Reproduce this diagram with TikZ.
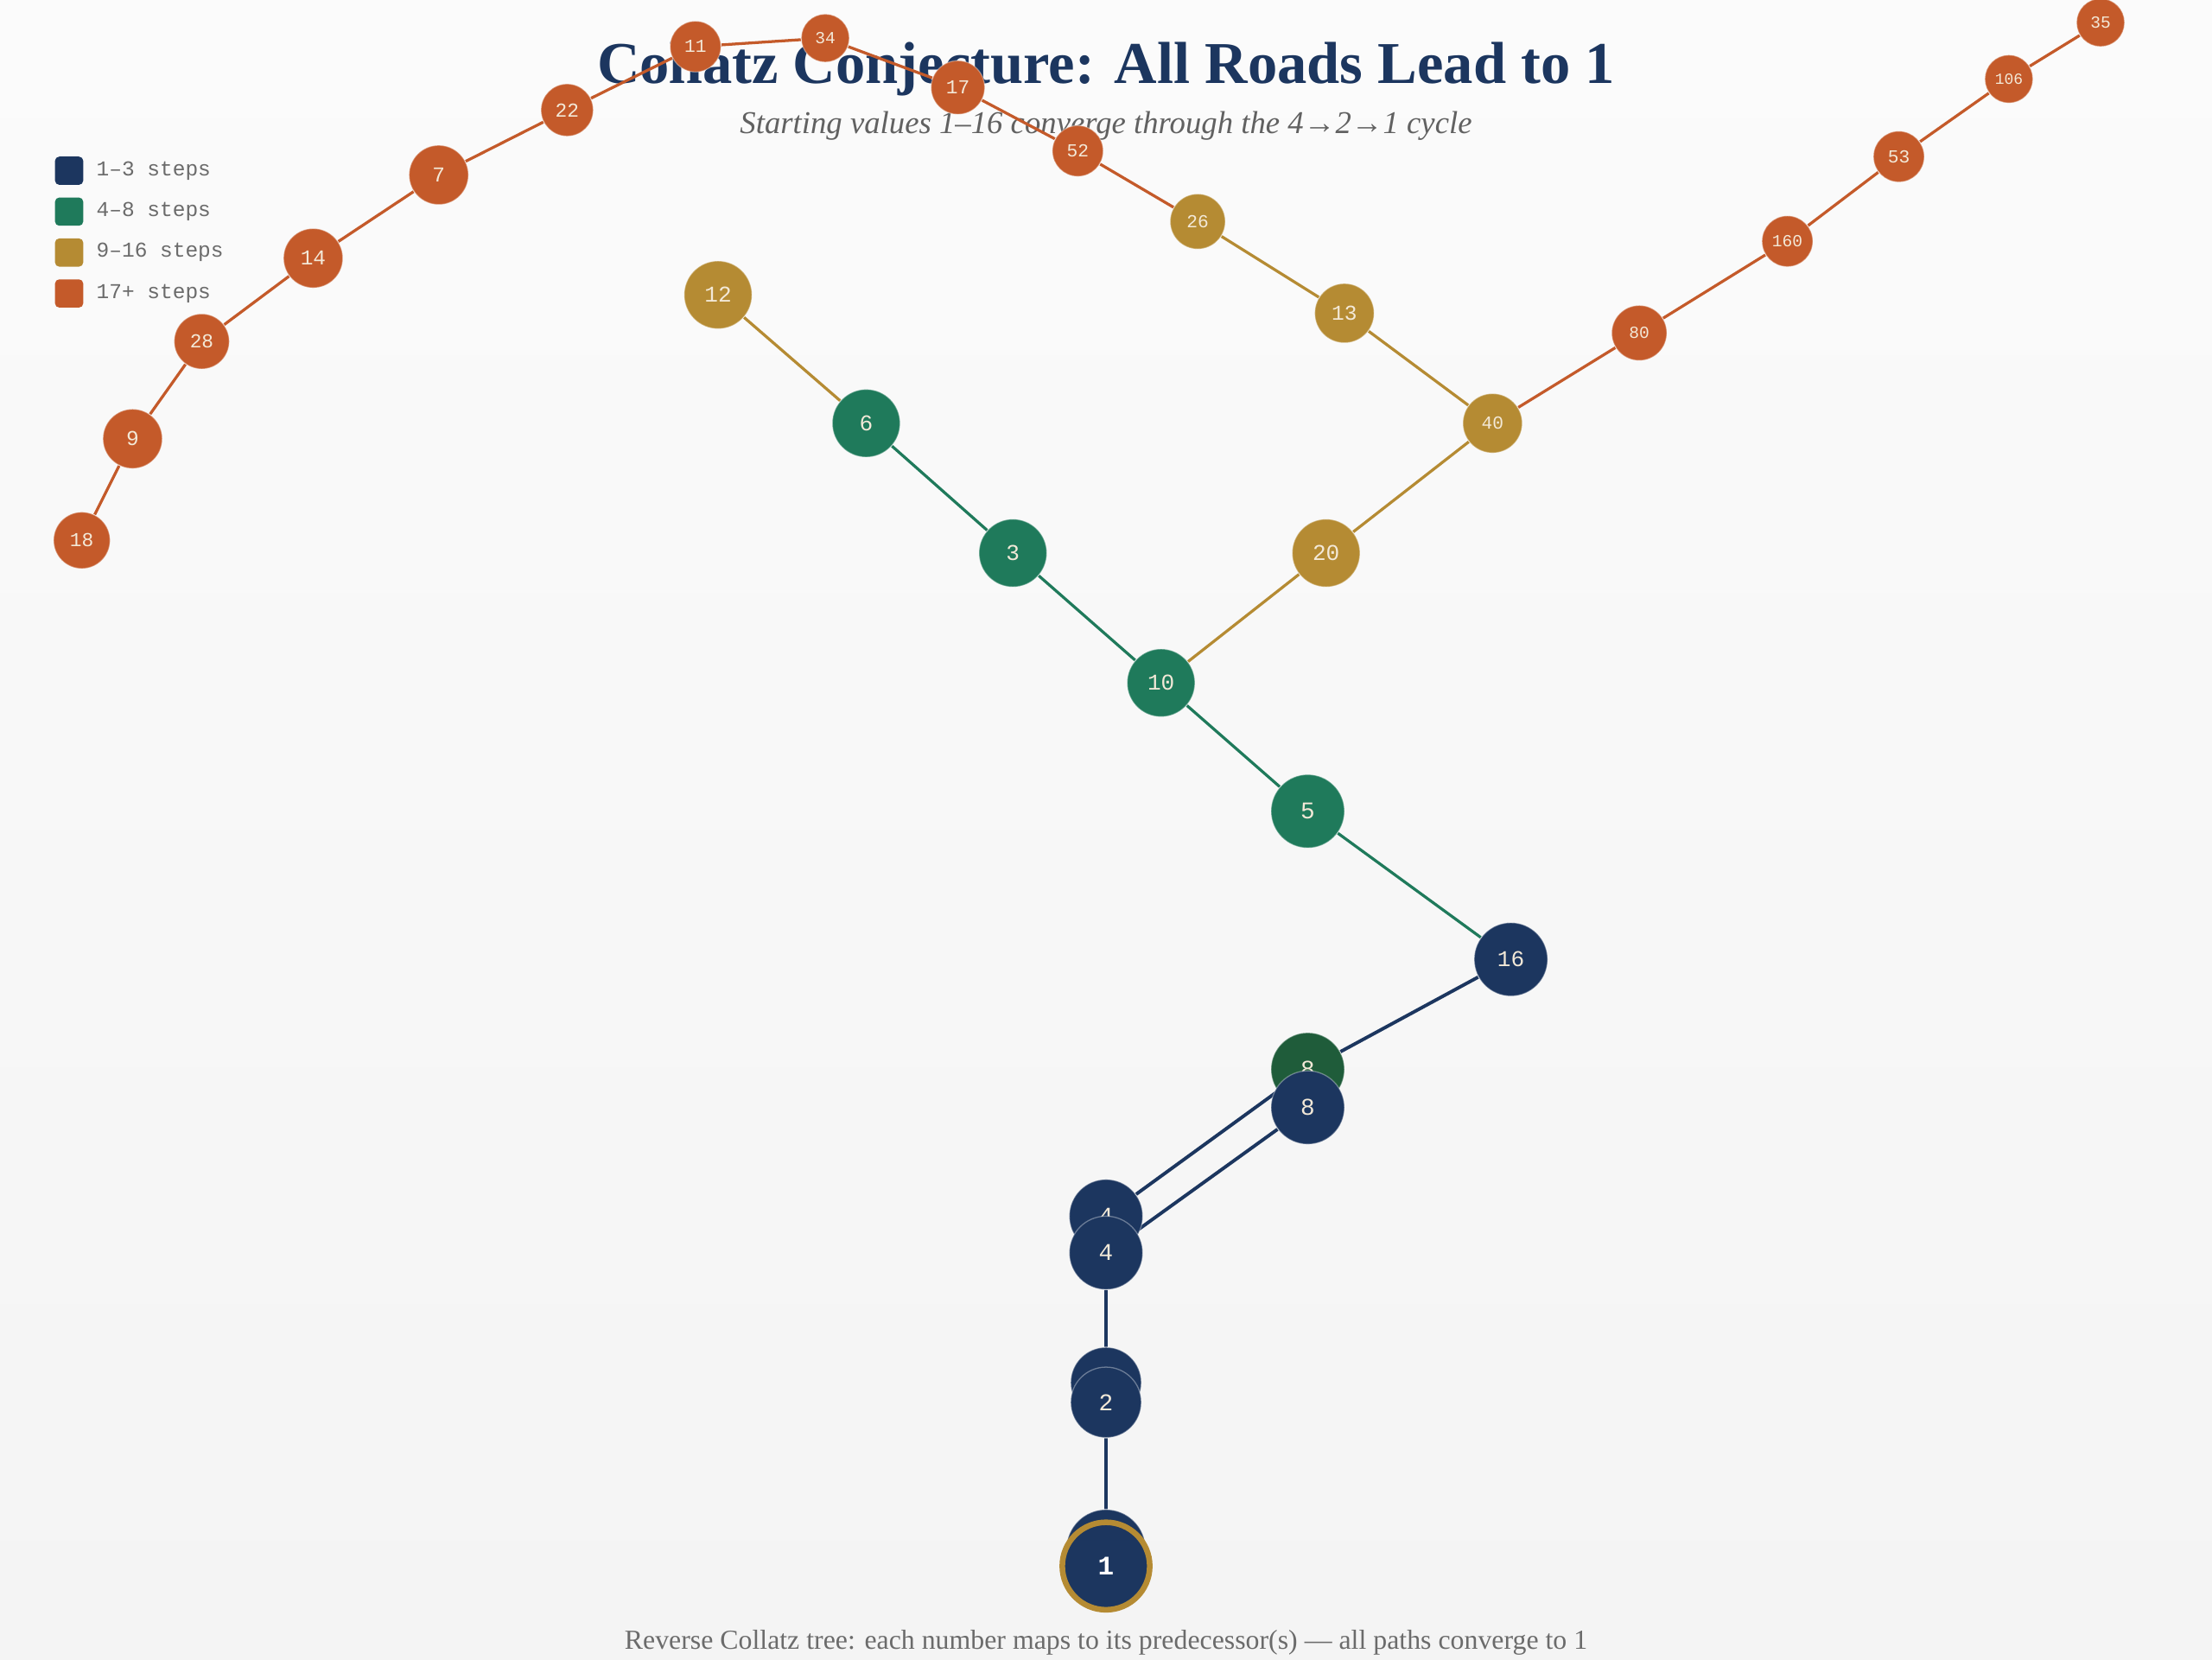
\documentclass[tikz,border=0pt]{standalone}
\usepackage{fontspec}
\setmainfont{Liberation Serif}
\setmonofont{Liberation Mono}
\usetikzlibrary{positioning}
\definecolor{navy}{HTML}{1C365F}
\definecolor{teal}{HTML}{1F7A5B}
\definecolor{gold}{HTML}{B58B33}
\definecolor{rust}{HTML}{C45A2A}
\definecolor{dkgreen}{HTML}{1F5C3A}
\definecolor{cream}{HTML}{F3E9D8}
\definecolor{bgtop}{HTML}{FBFBFB}
\definecolor{bgbot}{HTML}{F4F4F4}
\pgfdeclarelayer{background}
\pgfdeclarelayer{edgelayer}
\pgfsetlayers{background,edgelayer,main}
\begin{document}
\begin{tikzpicture}[x=1pt,y=-1pt,
  nd/.style n args={3}{circle, inner sep=0pt, fill=#1, minimum size=#2,
    font=\ttfamily\fontsize{#3}{#3}\selectfont, text=cream,
    draw=white, draw opacity=0.35, line width=0.8pt},
  ln/.style={line width=2pt, #1},
  legbox/.style={fill=#1, rounded corners=3pt, minimum size=20pt, inner sep=0pt},
  legtext/.style={font=\ttfamily\fontsize{15}{15}\selectfont, text=black!58, inner sep=0pt, anchor=west}]
\useasboundingbox (0,0) rectangle (1568,1176);
\begin{pgfonlayer}{background}
  \shade[top color=bgtop, bottom color=bgbot] (0,0) rectangle (1568,1176);
  \node[text=navy, font=\bfseries\fontsize{42}{44}\selectfont] (title) at (784,49) {Collatz Conjecture: All Roads Lead to 1};
  \node[text=black!62, font=\itshape\fontsize{22.5}{24}\selectfont] (subtitle) at (784,89) {Starting values 1–16 converge through the 4→2→1 cycle};
  \node[text=black!58, font=\fontsize{19.5}{21}\selectfont] (footer) at (784,1164) {Reverse Collatz tree: each number maps to its predecessor(s) — all paths converge to 1};
\end{pgfonlayer}

\node[legbox=navy] (k1) at (49,121) {};
\node[legtext, right=9pt of k1] {1–3 steps};
\node[legbox=teal] (k2) at (49,150) {};
\node[legtext, right=9pt of k2] {4–8 steps};
\node[legbox=gold] (k3) at (49,179) {};
\node[legtext, right=9pt of k3] {9–16 steps};
\node[legbox=rust] (k4) at (49,208) {};
\node[legtext, right=9pt of k4] {17+ steps};

\node[nd={navy}{56}{16}] (n1b) at (784,1098) {};
\node[nd={navy}{62}{18}, draw=gold, draw opacity=1, line width=4pt, text=white, font=\ttfamily\bfseries\fontsize{19}{19}\selectfont] (n1) at (784,1110) {1};
\node[nd={navy}{50}{16}] (n2b) at (784,980) {};
\node[nd={navy}{50}{17}] (n2) at (784,994) {2};
\node[nd={navy}{52}{17}] (n4b) at (784,862) {4};
\node[nd={navy}{52}{17}] (n4) at (784,888) {4};
\node[nd={dkgreen}{52}{17}] (n8b) at (927,758) {8};
\node[nd={navy}{52}{17}] (n8) at (927,785) {8};
\node[nd={navy}{52}{16}] (n16) at (1071,680) {16};
\node[nd={teal}{52}{17}] (n5) at (927,575) {5};
\node[nd={teal}{48}{16}] (n10) at (823,484) {10};
\node[nd={teal}{48}{16}] (n3) at (718,392) {3};
\node[nd={teal}{48}{16}] (n6) at (614,300) {6};
\node[nd={gold}{48}{16}] (n12) at (509,209) {12};
\node[nd={gold}{48}{16}] (n20) at (940,392) {20};
\node[nd={gold}{42}{13}] (n40) at (1058,300) {40};
\node[nd={gold}{42}{15}] (n13) at (953,222) {13};
\node[nd={gold}{39}{13}] (n26) at (849,157) {26};
\node[nd={rust}{36}{13}] (n52) at (764,107) {52};
\node[nd={rust}{38}{14}] (n17) at (679,62) {17};
\node[nd={rust}{34}{12}] (n34) at (585,27) {34};
\node[nd={rust}{36}{13}] (n11) at (493,33) {11};
\node[nd={rust}{37}{14}] (n22) at (402,78) {22};
\node[nd={rust}{42}{15}] (n7) at (311,124) {7};
\node[nd={rust}{42}{15}] (n14) at (222,183) {14};
\node[nd={rust}{39}{14}] (n28) at (143,242) {28};
\node[nd={rust}{42}{15}] (n9) at (94,311) {9};
\node[nd={rust}{40}{14}] (n18) at (58,383) {18};
\node[nd={rust}{39}{12}] (n80) at (1162,236) {80};
\node[nd={rust}{36}{12}] (n160) at (1267,171) {160};
\node[nd={rust}{36}{13}] (n53) at (1346,111) {53};
\node[nd={rust}{34}{11}] (n106) at (1424,56) {106};
\node[nd={rust}{34}{12}] (n35) at (1489,16) {35};

\begin{pgfonlayer}{edgelayer}
  \draw[ln=navy, line width=2.4pt] (n1b) -- (n2) (n2b) -- (n4) (n4b) -- (n8b) (n4) -- (n8) (n16) -- (n8b);
  \draw[ln=teal] (n16) -- (n5) -- (n10) -- (n3) -- (n6);
  \draw[ln=gold] (n6) -- (n12) (n10) -- (n20) -- (n40) -- (n13) -- (n26);
  \draw[ln=rust] (n26) -- (n52) -- (n17) -- (n34) -- (n11) -- (n22) -- (n7) -- (n14) -- (n28) -- (n9) -- (n18);
  \draw[ln=rust] (n40) -- (n80) -- (n160) -- (n53) -- (n106) -- (n35);
\end{pgfonlayer}
\end{tikzpicture}
\end{document}
